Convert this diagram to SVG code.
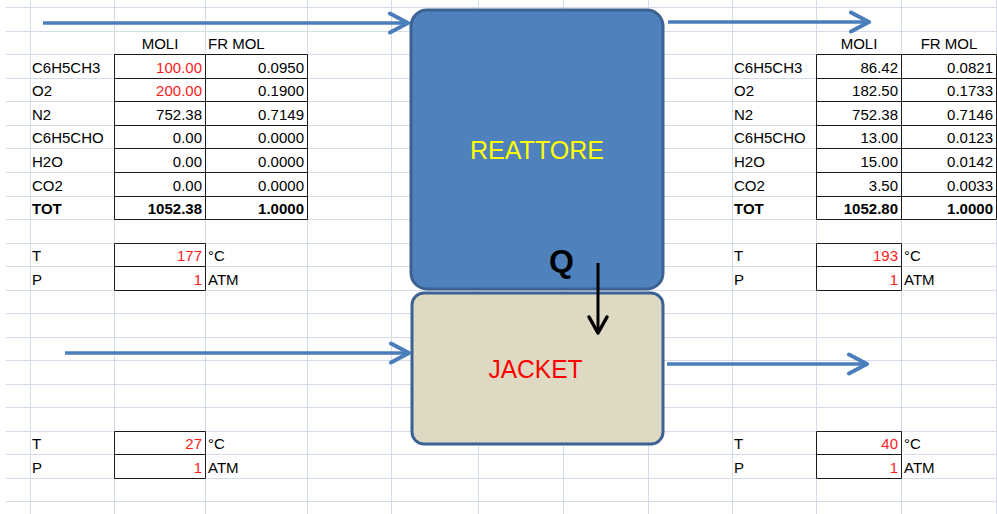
<svg xmlns="http://www.w3.org/2000/svg" width="997" height="514" viewBox="0 0 997 514">
  <defs>
    <style>
      .grid line { stroke: #d5dce9; stroke-width: 1; }
      .cell { font-family: "Liberation Sans", Arial, sans-serif; font-size: 15px; fill: #000; }
      .num { text-anchor: end; }
      .red { fill: #ff1a1a; }
      .b { font-weight: bold; }
      .ctr { text-anchor: middle; }
      .tbl { fill: none; stroke: #1a1a1a; stroke-width: 1; }
      .flow { stroke: #4a7ebb; stroke-width: 3.5; fill: none; marker-end: url(#chev); }
      .heat { stroke: #000; stroke-width: 3; fill: none; marker-end: url(#chevK); }
      .lbl { font-family: "Liberation Sans", Arial, sans-serif; font-size: 26px; text-anchor: middle; }
    </style>
    <marker id="chev" markerUnits="userSpaceOnUse" viewBox="0 0 24 24" markerWidth="24" markerHeight="24" refX="21" refY="12" orient="auto">
      <path d="M3,2.5 L21,12 L3,21.5" fill="none" stroke="#4a7ebb" stroke-width="4" stroke-linecap="round" stroke-linejoin="round"/>
    </marker>
    <marker id="chevK" markerUnits="userSpaceOnUse" viewBox="0 0 24 24" markerWidth="24" markerHeight="24" refX="20" refY="12" orient="auto">
      <path d="M4,3 L20,12 L4,21" fill="none" stroke="#000" stroke-width="3.5" stroke-linecap="round" stroke-linejoin="round"/>
    </marker>
  </defs>

  <rect width="997" height="514" fill="#fff"/>

  <!-- worksheet grid -->
  <g class="grid">
    <line x1="6" y1="7.5" x2="997" y2="7.5"/>
    <line x1="6" y1="31.5" x2="997" y2="31.5"/>
    <line x1="6" y1="54.5" x2="997" y2="54.5"/>
    <line x1="6" y1="78.5" x2="997" y2="78.5"/>
    <line x1="6" y1="101.5" x2="997" y2="101.5"/>
    <line x1="6" y1="125.5" x2="997" y2="125.5"/>
    <line x1="6" y1="148.5" x2="997" y2="148.5"/>
    <line x1="6" y1="172.5" x2="997" y2="172.5"/>
    <line x1="6" y1="196.5" x2="997" y2="196.5"/>
    <line x1="6" y1="219.5" x2="997" y2="219.5"/>
    <line x1="6" y1="243.5" x2="997" y2="243.5"/>
    <line x1="6" y1="266.5" x2="997" y2="266.5"/>
    <line x1="6" y1="290.5" x2="997" y2="290.5"/>
    <line x1="6" y1="313.5" x2="997" y2="313.5"/>
    <line x1="6" y1="337.5" x2="997" y2="337.5"/>
    <line x1="6" y1="360.5" x2="997" y2="360.5"/>
    <line x1="6" y1="384.5" x2="997" y2="384.5"/>
    <line x1="6" y1="407.5" x2="997" y2="407.5"/>
    <line x1="6" y1="431.5" x2="997" y2="431.5"/>
    <line x1="6" y1="454.5" x2="997" y2="454.5"/>
    <line x1="6" y1="478.5" x2="997" y2="478.5"/>
    <line x1="6" y1="501.5" x2="997" y2="501.5"/>
    <line x1="30.5" y1="0" x2="30.5" y2="514"/>
    <line x1="114.5" y1="0" x2="114.5" y2="514"/>
    <line x1="205.5" y1="0" x2="205.5" y2="514"/>
    <line x1="307.5" y1="0" x2="307.5" y2="514"/>
    <line x1="391.5" y1="0" x2="391.5" y2="514"/>
    <line x1="478.5" y1="0" x2="478.5" y2="514"/>
    <line x1="563.5" y1="0" x2="563.5" y2="514"/>
    <line x1="648.5" y1="0" x2="648.5" y2="514"/>
    <line x1="732.5" y1="0" x2="732.5" y2="514"/>
    <line x1="816.5" y1="0" x2="816.5" y2="514"/>
    <line x1="901.5" y1="0" x2="901.5" y2="514"/>
    <line x1="996.5" y1="0" x2="996.5" y2="514"/>
  </g>

  <!-- inlet composition -->
  <g id="feed-table">
    <path class="tbl" d="M114.5,54.5 H307.5 V219.5 H114.5 Z M205.5,54.5 V219.5 M114.5,78.5 H307.5 M114.5,101.5 H307.5 M114.5,125.5 H307.5 M114.5,148.5 H307.5 M114.5,172.5 H307.5 M114.5,196.5 H307.5"/>
    <text class="cell ctr" x="160" y="49">MOLI</text>
    <text class="cell" x="208" y="49">FR MOL</text>
    <text class="cell" x="32" y="73">C6H5CH3</text>
    <text class="cell" x="32" y="96">O2</text>
    <text class="cell" x="32" y="120">N2</text>
    <text class="cell" x="32" y="143">C6H5CHO</text>
    <text class="cell" x="32" y="167">H2O</text>
    <text class="cell" x="32" y="191">CO2</text>
    <text class="cell b" x="32" y="214">TOT</text>
    <text class="cell num red" x="202" y="73">100.00</text>
    <text class="cell num red" x="202" y="96">200.00</text>
    <text class="cell num" x="202" y="120">752.38</text>
    <text class="cell num" x="202" y="143">0.00</text>
    <text class="cell num" x="202" y="167">0.00</text>
    <text class="cell num" x="202" y="191">0.00</text>
    <text class="cell num b" x="202" y="214">1052.38</text>
    <text class="cell num" x="304" y="73">0.0950</text>
    <text class="cell num" x="304" y="96">0.1900</text>
    <text class="cell num" x="304" y="120">0.7149</text>
    <text class="cell num" x="304" y="143">0.0000</text>
    <text class="cell num" x="304" y="167">0.0000</text>
    <text class="cell num" x="304" y="191">0.0000</text>
    <text class="cell num b" x="304" y="214">1.0000</text>
  </g>

  <!-- outlet composition -->
  <g id="product-table">
    <path class="tbl" d="M816.5,54.5 H996.5 V219.5 H816.5 Z M901.5,54.5 V219.5 M816.5,78.5 H996.5 M816.5,101.5 H996.5 M816.5,125.5 H996.5 M816.5,148.5 H996.5 M816.5,172.5 H996.5 M816.5,196.5 H996.5"/>
    <text class="cell ctr" x="859" y="49">MOLI</text>
    <text class="cell ctr" x="949" y="49">FR MOL</text>
    <text class="cell" x="734" y="73">C6H5CH3</text>
    <text class="cell" x="734" y="96">O2</text>
    <text class="cell" x="734" y="120">N2</text>
    <text class="cell" x="734" y="143">C6H5CHO</text>
    <text class="cell" x="734" y="167">H2O</text>
    <text class="cell" x="734" y="191">CO2</text>
    <text class="cell b" x="734" y="214">TOT</text>
    <text class="cell num" x="898" y="73">86.42</text>
    <text class="cell num" x="898" y="96">182.50</text>
    <text class="cell num" x="898" y="120">752.38</text>
    <text class="cell num" x="898" y="143">13.00</text>
    <text class="cell num" x="898" y="167">15.00</text>
    <text class="cell num" x="898" y="191">3.50</text>
    <text class="cell num b" x="898" y="214">1052.80</text>
    <text class="cell num" x="993" y="73">0.0821</text>
    <text class="cell num" x="993" y="96">0.1733</text>
    <text class="cell num" x="993" y="120">0.7146</text>
    <text class="cell num" x="993" y="143">0.0123</text>
    <text class="cell num" x="993" y="167">0.0142</text>
    <text class="cell num" x="993" y="191">0.0033</text>
    <text class="cell num b" x="993" y="214">1.0000</text>
  </g>

  <!-- reactor feed conditions -->
  <g id="feed-conditions">
    <path class="tbl" d="M114.5,243.5 H205.5 V290.5 H114.5 Z M114.5,266.5 H205.5"/>
    <text class="cell" x="32" y="261">T</text>
    <text class="cell" x="32" y="285">P</text>
    <text class="cell num red" x="202" y="261">177</text>
    <text class="cell num red" x="202" y="285">1</text>
    <text class="cell" x="208" y="261">°C</text>
    <text class="cell" x="208" y="285">ATM</text>
  </g>

  <!-- reactor product conditions -->
  <g id="product-conditions">
    <path class="tbl" d="M816.5,243.5 H901.5 V290.5 H816.5 Z M816.5,266.5 H901.5"/>
    <text class="cell" x="734" y="261">T</text>
    <text class="cell" x="734" y="285">P</text>
    <text class="cell num red" x="898" y="261">193</text>
    <text class="cell num red" x="898" y="285">1</text>
    <text class="cell" x="904" y="261">°C</text>
    <text class="cell" x="904" y="285">ATM</text>
  </g>

  <!-- coolant inlet conditions -->
  <g id="coolant-in">
    <path class="tbl" d="M114.5,431.5 H205.5 V478.5 H114.5 Z M114.5,454.5 H205.5"/>
    <text class="cell" x="32" y="449">T</text>
    <text class="cell" x="32" y="473">P</text>
    <text class="cell num red" x="202" y="449">27</text>
    <text class="cell num red" x="202" y="473">1</text>
    <text class="cell" x="208" y="449">°C</text>
    <text class="cell" x="208" y="473">ATM</text>
  </g>

  <!-- coolant outlet conditions -->
  <g id="coolant-out">
    <path class="tbl" d="M816.5,431.5 H901.5 V478.5 H816.5 Z M816.5,454.5 H901.5"/>
    <text class="cell" x="734" y="449">T</text>
    <text class="cell" x="734" y="473">P</text>
    <text class="cell num red" x="898" y="449">40</text>
    <text class="cell num red" x="898" y="473">1</text>
    <text class="cell" x="904" y="449">°C</text>
    <text class="cell" x="904" y="473">ATM</text>
  </g>

  <!-- reactor -->
  <g id="reattore">
    <rect x="411" y="10" width="252" height="279" rx="16" fill="#4f81bd" stroke="#3b6292" stroke-width="3"/>
    <text class="lbl" x="537" y="159" fill="#ffff00" textLength="134" lengthAdjust="spacingAndGlyphs">REATTORE</text>
  </g>

  <!-- cooling jacket -->
  <g id="jacket">
    <rect x="412" y="293" width="251" height="151" rx="12" fill="#ddd9c3" stroke="#3b6292" stroke-width="3"/>
    <text class="lbl" x="535.5" y="378" fill="#ff0000" textLength="94" lengthAdjust="spacingAndGlyphs">JACKET</text>
  </g>

  <!-- streams and heat duty -->
  <g id="connectors">
    <line class="flow" x1="43" y1="23" x2="408" y2="23"/>
    <line class="flow" x1="668" y1="22" x2="869" y2="22"/>
    <line class="flow" x1="65" y1="353" x2="409" y2="353"/>
    <line class="flow" x1="667" y1="364" x2="867" y2="364"/>
    <line class="heat" x1="598" y1="263" x2="598" y2="333"/>
    <text x="549" y="272" font-family="Liberation Sans, Arial, sans-serif" font-size="32" font-weight="bold" fill="#000">Q</text>
  </g>
</svg>
